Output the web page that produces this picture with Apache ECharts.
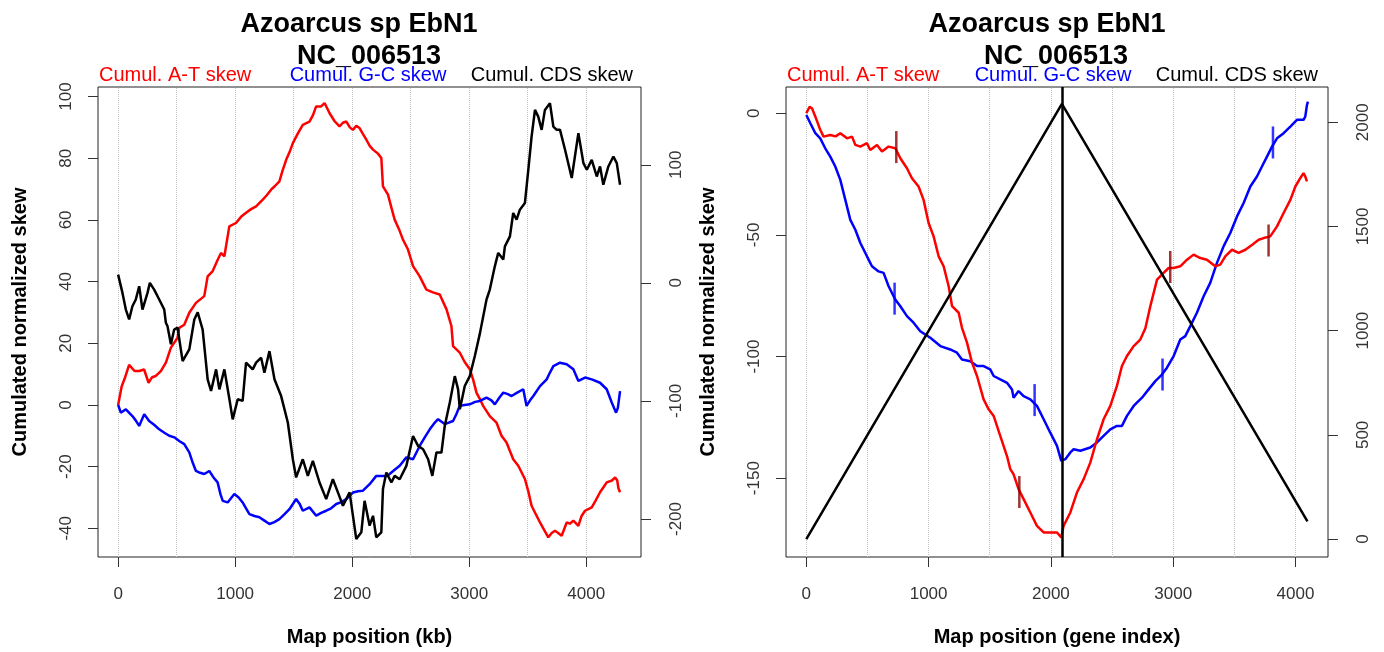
<!DOCTYPE html>
<html>
<head>
<meta charset="utf-8">
<title>Azoarcus sp EbN1 - skew</title>
<script src="https://cdn.jsdelivr.net/npm/echarts@6.0.0/dist/echarts.min.js"></script>
<style>
    html, body { margin: 0; padding: 0; background: #fff; }
    #chart { width: 1384px; height: 652px; }
</style>
</head>
<body>
<div id="chart"></div>
<script>
// 左图: Map position (kb)
const kbAT = [[0, 0], [30, 6], [60, 9], [94, 13], [140, 11], [180, 11], [222, 11.5], [260, 7.2], [290, 9], [322, 9.4], [365, 11], [408, 13.7], [451, 18.6], [508, 21.8], [522, 25], [565, 26], [608, 29.9], [665, 33.1], [736, 35.3], [765, 41.7], [808, 43.4], [850, 47], [879, 49.3], [908, 48.2], [950, 57.9], [1007, 59], [1050, 61], [1093, 62.3], [1136, 63.5], [1179, 64.4], [1236, 66.6], [1270, 68], [1307, 69.8], [1340, 71], [1378, 72.5], [1405, 76], [1436, 79.5], [1465, 82], [1493, 84.9], [1535, 88], [1578, 90.8], [1635, 91.9], [1665, 94], [1692, 96.8], [1735, 96.8], [1764, 97.9], [1807, 94.6], [1850, 92], [1892, 90.3], [1920, 91.5], [1950, 91.9], [1980, 90], [2006, 89.2], [2035, 90.5], [2063, 89.8], [2090, 88], [2121, 86], [2150, 84], [2178, 82.8], [2220, 81.5], [2249, 80.1], [2263, 70.9], [2306, 68.2], [2335, 64], [2363, 60.1], [2400, 57], [2434, 53.6], [2477, 50.4], [2520, 45], [2577, 41.7], [2634, 37.4], [2690, 36.5], [2748, 35.8], [2806, 31], [2848, 25.6], [2862, 19.1], [2919, 17], [2960, 14], [3005, 11.6], [3033, 8.3], [3062, 4], [3090, 2], [3119, -0.3], [3176, -3.6], [3233, -5.7], [3276, -10], [3319, -12.2], [3376, -17.6], [3419, -19.7], [3476, -24], [3505, -28], [3533, -32.7], [3570, -35.5], [3605, -38.1], [3640, -40.5], [3676, -42.9], [3705, -41.5], [3733, -40.8], [3760, -41.5], [3790, -42.4], [3833, -38.1], [3860, -38.5], [3890, -37.5], [3933, -39.2], [3960, -36], [3990, -34.3], [4047, -33.2], [4080, -31], [4118, -28.3], [4150, -26.5], [4175, -25.1], [4220, -24.5], [4247, -23.5], [4265, -24.5], [4275, -27], [4289, -28.3]];

const kbGC = [[0, 0], [23, -2.5], [66, -1.4], [122, -3.6], [150, -5], [180, -6.8], [200, -5], [223, -3], [265, -5.2], [310, -6.5], [351, -7.9], [395, -9], [437, -10], [480, -10.5], [522, -11.7], [565, -12.7], [608, -15.4], [640, -19], [665, -21.4], [700, -22], [736, -22.4], [779, -21.4], [815, -23.5], [850, -25.1], [875, -29], [894, -31.1], [936, -31.6], [993, -28.9], [1030, -30], [1064, -31.6], [1093, -33.5], [1122, -35.4], [1165, -36], [1207, -36.4], [1250, -37.5], [1293, -38.6], [1335, -38], [1378, -37], [1420, -35.5], [1464, -33.8], [1521, -30.5], [1550, -32], [1578, -34.3], [1635, -33.2], [1693, -35.9], [1735, -35], [1778, -34.3], [1820, -33.5], [1864, -32.1], [1907, -31.5], [1950, -30.5], [2006, -28.4], [2050, -28], [2092, -27.8], [2149, -25.7], [2206, -23], [2250, -23], [2292, -23], [2320, -22.4], [2363, -21], [2406, -19.7], [2463, -17], [2520, -17.6], [2577, -13.3], [2620, -10.5], [2663, -7.9], [2700, -6], [2734, -4.6], [2791, -6.2], [2862, -5.2], [2890, -3], [2919, -0.3], [2960, 0], [3005, 0.2], [3050, 1], [3091, 1.3], [3148, 2.4], [3190, 1.5], [3219, 0.2], [3260, 2.5], [3291, 4], [3330, 3.5], [3362, 2.9], [3410, 4], [3462, 5.1], [3490, -0.3], [3520, 1.5], [3548, 2.9], [3605, 6.1], [3662, 8.3], [3690, 10.5], [3719, 12.6], [3776, 13.7], [3833, 13.2], [3890, 11.6], [3933, 7.8], [3990, 8.9], [4047, 8.3], [4118, 7.2], [4175, 5.1], [4218, 0.8], [4255, -2.5], [4270, -1], [4289, 4.5]];

// CDS skew 用右侧坐标轴
const kbCDS = [[0, 7], [9, 8.5], [37, -8.5], [66, -22.6], [94, -31], [122, -19.8], [151, -14.1], [180, -2.9], [208, -22.6], [251, -8.5], [271, 0], [308, -5.7], [351, -14.1], [394, -22.6], [408, -33.8], [422, -36.7], [451, -52], [479, -39.5], [508, -38], [551, -66.3], [608, -56.4], [651, -31], [680, -25], [722, -39.5], [765, -81.7], [794, -91.6], [837, -73.3], [865, -90.2], [908, -73.3], [951, -98.6], [979, -115.6], [1022, -98.6], [1064, -100], [1093, -67.6], [1150, -73.3], [1179, -67.6], [1222, -63.4], [1250, -76.1], [1293, -57.8], [1336, -81.7], [1393, -95.9], [1450, -118.3], [1493, -149.4], [1521, -164.8], [1578, -149.4], [1621, -163.5], [1664, -150.8], [1721, -169.1], [1778, -183.2], [1835, -166.3], [1878, -177.5], [1921, -188.8], [1978, -177.5], [2035, -217], [2078, -211.3], [2106, -184.6], [2149, -205.7], [2178, -197.3], [2206, -215.6], [2249, -211.3], [2263, -174.7], [2292, -160.6], [2335, -169.1], [2363, -163.5], [2406, -166.3], [2463, -155], [2520, -129.7], [2563, -138.1], [2606, -140.9], [2649, -149.4], [2685, -163.5], [2720, -143.7], [2763, -143.7], [2791, -121.2], [2834, -101.4], [2877, -79], [2905, -90.2], [2920, -107.1], [2962, -87.4], [3005, -79], [3048, -62], [3091, -43], [3148, -14.1], [3176, -5.7], [3219, 14], [3248, 25.4], [3291, 19.7], [3305, 30.9], [3348, 39.4], [3376, 59.2], [3405, 53.5], [3433, 62], [3476, 67.6], [3505, 95.8], [3533, 123.9], [3562, 146.5], [3590, 140.8], [3619, 129.6], [3647, 146.5], [3690, 152.2], [3719, 132.4], [3748, 129.6], [3776, 129.6], [3819, 112.7], [3876, 88.8], [3933, 126.8], [3976, 101.4], [4005, 95.8], [4047, 104.2], [4090, 90.1], [4118, 98.6], [4146, 83.1], [4189, 98.6], [4232, 107], [4261, 101.4], [4289, 83.1]];

// 右图: Map position (gene index)
const geneAT = [[0, 0], [27, 2.7], [47, 2], [74, -1.4], [114, -6.8], [141, -9.6], [196, -8.9], [240, -9.5], [278, -8.2], [333, -10.3], [374, -9.6], [401, -13], [442, -13.7], [496, -12.3], [523, -15.1], [578, -13], [619, -15.7], [673, -13.7], [728, -14.4], [769, -18.5], [823, -22.6], [864, -26.7], [918, -30.1], [959, -35.6], [1000, -45.1], [1041, -50.6], [1082, -58.8], [1123, -62.9], [1164, -71.1], [1192, -79.3], [1246, -82], [1273, -88.2], [1314, -94.3], [1355, -102.5], [1396, -108], [1450, -117.6], [1491, -121.7], [1532, -124.4], [1586, -132.6], [1641, -140.9], [1668, -146.3], [1695, -148.4], [1736, -154.5], [1777, -158.6], [1832, -164.1], [1886, -169.6], [1941, -172.3], [1995, -172.3], [2050, -172.3], [2085, -174.4], [2104, -169.6], [2159, -164.1], [2213, -155.9], [2268, -150.4], [2322, -143.6], [2377, -134], [2431, -125.8], [2486, -120.3], [2540, -112.1], [2581, -103.9], [2622, -99.8], [2677, -95.7], [2731, -93], [2772, -88.5], [2813, -79.3], [2868, -68.4], [2922, -65.6], [2963, -63.6], [3004, -63.6], [3058, -62.9], [3113, -60.2], [3167, -58.1], [3222, -59.5], [3276, -60.2], [3344, -62.9], [3385, -62.2], [3426, -58.8], [3481, -56.1], [3535, -57.4], [3590, -56.1], [3644, -54.1], [3699, -52], [3740, -51.3], [3794, -50.6], [3849, -46.5], [3903, -41], [3958, -35.6], [3999, -30.1], [4039, -26.7], [4066, -24.6], [4080, -26], [4094, -28]];

const geneGC = [[0, -0.7], [33, -4.1], [74, -8.2], [114, -10.3], [155, -14.4], [196, -17.8], [237, -21.9], [278, -27.4], [319, -35.6], [360, -43.8], [401, -47.9], [442, -53.3], [496, -58.8], [537, -62.9], [591, -65], [632, -65.6], [673, -71.1], [728, -76.6], [769, -79.3], [823, -83.4], [877, -86.1], [932, -89.6], [1014, -92.3], [1096, -95.7], [1177, -97.1], [1232, -98.4], [1273, -101.2], [1341, -101.9], [1396, -103.9], [1450, -103.9], [1504, -105.3], [1532, -108], [1586, -109.4], [1641, -110.8], [1682, -113.5], [1695, -116.9], [1736, -114.2], [1777, -116.3], [1832, -117.6], [1886, -120.3], [1941, -125.8], [1995, -131.3], [2050, -136.7], [2085, -142.9], [2118, -142.2], [2159, -139.4], [2186, -138.1], [2241, -138.7], [2322, -137.4], [2377, -135.3], [2431, -132.6], [2486, -129.9], [2540, -128.5], [2581, -128.5], [2622, -124.4], [2677, -120.3], [2745, -116.9], [2799, -113.5], [2854, -110.1], [2908, -107.4], [2949, -104.6], [3004, -99.8], [3058, -93], [3099, -91.6], [3140, -87.5], [3194, -82], [3249, -75.2], [3303, -69.7], [3358, -61.5], [3412, -54.7], [3467, -49.2], [3522, -42.4], [3576, -36.9], [3631, -30.1], [3685, -26], [3726, -21.9], [3767, -17.8], [3808, -13.7], [3849, -10.3], [3903, -8.2], [3958, -5.5], [4012, -2.7], [4066, -2.7], [4080, -1.4], [4094, 3.4], [4102, 4.8]];

const geneCDS = [[0, 0], [2090, 2088], [4098, 85]];
const oriGene = 2090;

// 短竖线标记
const markAT = [[736, -13.9], [1742, -155.7], [2976, -63.2], [3780, -52.3]];
const markGC = [[722, -76.2], [1867, -117.9], [2913, -107.4], [3816, -12]];

const xTicks = [0, 1000, 2000, 3000, 4000];
const xGridLines = [0, 500, 1000, 1500, 2000, 2500, 3000, 3500, 4000];
const kbLeftTicks = [-40, -20, 0, 20, 40, 60, 80, 100];
const kbRightTicks = [-200, -100, 0, 100];
const geneLeftTicks = [-150, -100, -50, 0];
const geneRightTicks = [0, 500, 1000, 1500, 2000];

const FONT = 'Liberation Sans';
const RED = '#ff0000';
const BLUE = '#0000ff';

let myChart = null;

function xAxisOf(gridIndex, min, max, name) {
    return {
        type: 'value',
        gridIndex,
        min,
        max,
        name,
        nameLocation: 'middle',
        nameGap: 70,
        nameTextStyle: { fontFamily: FONT, fontSize: 20, fontWeight: 'bold', color: '#000' },
        axisLine: { show: false, onZero: false },
        axisTick: { show: true, length: 10, customValues: xTicks, lineStyle: { color: '#333' } },
        axisLabel: {
            customValues: xTicks,
            margin: 29,
            fontFamily: FONT,
            fontSize: 17,
            color: '#333',
            formatter: v => String(v),
        },
        splitLine: { show: false },
    };
}

function yAxisOf(gridIndex, position, min, max, ticks, name) {
    return {
        type: 'value',
        gridIndex,
        position,
        min,
        max,
        name,
        nameLocation: 'middle',
        nameGap: 68,
        nameRotate: 90,
        nameTextStyle: { fontFamily: FONT, fontSize: 20, fontWeight: 'bold', color: '#000' },
        axisLine: { show: false, onZero: false },
        axisTick: { show: true, length: 10, customValues: ticks, lineStyle: { color: '#333' } },
        axisLabel: {
            customValues: ticks,
            rotate: 90,
            margin: position === 'right' ? 27 : 23,
            fontFamily: FONT,
            fontSize: 17,
            color: '#333',
            formatter: v => String(v),
        },
        splitLine: { show: false },
    };
}

function header(text, left, top, align, style) {
    return {
        text,
        left,
        top,
        textAlign: align,
        padding: 0,
        textStyle: Object.assign({ fontFamily: FONT, fontSize: 20, fontWeight: 'normal', color: '#000' }, style),
    };
}

// 灰色点线 (每 500 一条)
function gridLines(xAxisIndex, yAxisIndex) {
    return {
        type: 'line',
        xAxisIndex,
        yAxisIndex,
        data: [],
        silent: true,
        z: 1,
        markLine: {
            silent: true,
            z: 1,
            symbol: ['none', 'none'],
            label: { show: false },
            lineStyle: { color: '#c4c4c4', type: 'dotted', width: 1 },
            data: xGridLines.map(v => ({ xAxis: v })),
        },
    };
}

function curve(name, data, color, xAxisIndex, yAxisIndex) {
    return {
        name,
        type: 'line',
        xAxisIndex,
        yAxisIndex,
        data,
        symbol: 'none',
        z: 3,
        lineStyle: { color, width: 2.5 },
    };
}

function renderChart() {
    myChart = echarts.init(document.getElementById('chart'), null, { renderer: 'canvas' });
    const big = { fontSize: 27, fontWeight: 'bold' };
    const option = {
        animation: false,
        backgroundColor: '#fff',
        title: [
            header('Azoarcus sp EbN1', 359, 11, 'center', big),
            header('NC_006513', 369, 43, 'center', big),
            header('Cumul. A-T skew', 99, 65, 'left', { color: RED }),
            header('Cumul. G-C skew', 368, 65, 'center', { color: BLUE }),
            header('Cumul. CDS skew', 633, 65, 'right', {}),
            header('Azoarcus sp EbN1', 1047, 11, 'center', big),
            header('NC_006513', 1056, 43, 'center', big),
            header('Cumul. A-T skew', 787, 65, 'left', { color: RED }),
            header('Cumul. G-C skew', 1053, 65, 'center', { color: BLUE }),
            header('Cumul. CDS skew', 1318, 65, 'right', {}),
        ],
        grid: [
            { left: 98, top: 87, width: 543, height: 471, show: true, borderColor: '#222', borderWidth: 1, backgroundColor: 'transparent' },
            { left: 786, top: 87, width: 542, height: 471, show: true, borderColor: '#222', borderWidth: 1, backgroundColor: 'transparent' },
        ],
        xAxis: [
            xAxisOf(0, -172, 4468, 'Map position (kb)'),
            xAxisOf(1, -166, 4266, 'Map position (gene index)'),
        ],
        yAxis: [
            yAxisOf(0, 'left', -49.3, 103.1, kbLeftTicks, 'Cumulated normalized skew'),
            yAxisOf(0, 'right', -232.2, 165.9, kbRightTicks),
            yAxisOf(1, 'left', -182.4, 10.8, geneLeftTicks, 'Cumulated normalized skew'),
            yAxisOf(1, 'right', -86, 2169, geneRightTicks),
        ],
        series: [
            gridLines(0, 0),
            curve('kbAT', kbAT, RED, 0, 0),
            curve('kbGC', kbGC, BLUE, 0, 0),
            curve('kbCDS', kbCDS, '#000', 0, 1),
            gridLines(1, 2),
            curve('geneGC', geneGC, BLUE, 1, 2),
            curve('geneAT', geneAT, RED, 1, 2),
            Object.assign(curve('geneCDS', geneCDS, '#000', 1, 3), {
                markLine: {
                    silent: true,
                    symbol: ['none', 'none'],
                    label: { show: false },
                    lineStyle: { color: '#000', type: 'solid', width: 2.5 },
                    data: [{ xAxis: oriGene }],
                },
            }),
            {
                type: 'scatter',
                xAxisIndex: 1,
                yAxisIndex: 2,
                data: markAT,
                symbol: 'rect',
                symbolSize: [2.5, 32],
                z: 4,
                itemStyle: { color: '#8b0000' },
            },
            {
                type: 'scatter',
                xAxisIndex: 1,
                yAxisIndex: 2,
                data: markGC,
                symbol: 'rect',
                symbolSize: [2.5, 32],
                z: 4,
                itemStyle: { color: BLUE },
            },
        ],
    };
    myChart.setOption(option);
}

renderChart();
</script>
</body>
</html>
